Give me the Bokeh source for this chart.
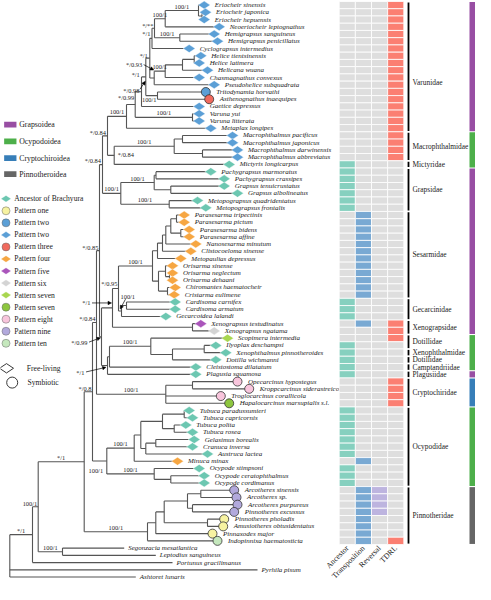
import math
from bokeh.plotting import figure
from bokeh.models import ColumnDataSource, Range1d, Arrow, NormalHead
from bokeh.core.properties import value
from bokeh.embed import file_html
from bokeh.resources import INLINE

# ---------------- data ----------------
taxa = [
    "Eriocheir sinensis", "Eriocheir japonica", "Eriocheir hepuensis", "Neoeriocheir leptognathus",
    "Hemigrapsus sanguineus", "Hemigrapsus penicillatus", "Cyclograpsus intermedius",
    "Helice tientsinensis", "Helice latimera", "Helicana wuana", "Chasmagnathus convexus",
    "Pseudohelice subquadrata", "Tritodynamia horvathi", "Asthenognathus inaequipes",
    "Gaetice depressus", "Varuna yui", "Varuna litterata", "Metaplax longipes",
    "Macrophthalmus pacificus", "Macrophthalmus japonicus", "Macrophthalmus darwinensis",
    "Macrophthalmus abbreviatus", "Mictyris longicarpus",
    "Pachygrapsus marmoratus", "Pachygrapsus crassipes", "Grapsus tenuicrustatus",
    "Grapsus albolineatus", "Metopograpsus quadridentatus", "Metopograpsus frontalis",
    "Parasesarma tripectinis", "Parasesarma pictum", "Parasesarma bidens", "Parasesarma affine",
    "Nanosesarma minutum", "Clistocoeloma sinense", "Metopaulias depressus", "Orisarma sinense",
    "Orisarma neglectum", "Orisarma dehaani", "Chiromantes haematocheir", "Cristarma eulimene",
    "Cardisoma carnifex", "Cardisoma armatum", "Gecarcoidea lalandi",
    "Xenograpsus testudinatus", "Xenograpsus ngatama",
    "Scopimera intermedia", "Ilyoplax deschampsi", "Xenophthalmus pinnotheroides",
    "Dotilla wichmanni", "Cleistostoma dilatatum", "Plagusia squamosa",
    "Opecarcinus hypostegus", "Kroppcarcinus siderastreicola", "Troglocarcinus corallicola",
    "Hapalocarcinus marsupialis s.l.",
    "Tubuca paradussumieri", "Tubuca capricornis", "Tubuca polita", "Tubuca rosea",
    "Gelasimus borealis", "Cranuca inversa", "Austruca lactea", "Minuca minax",
    "Ocypode stimpsoni", "Ocypode ceratophthalmus", "Ocypode cordimanus",
    "Arcotheres sinensis", "Arcotheres sp.", "Arcotheres purpureus", "Pinnotheres excussus",
    "Pinnotheres pholadis", "Amusiotheres obtusidentatus", "Pinnaxodes major",
    "Indopinnixa haematosticta",
    "Segonzacia mesatlantica", "Leptodius sanguineus", "Portunus gracilimanus",
    "Pyrhila pisum", "Ashtoret lunaris",
]

# tip depth (end of each terminal branch)
tip_x = [
    211.7, 213, 211.7, 226.7, 221.7, 225, 196.7, 208.3, 206.7, 215, 206.7, 221.7, 213.3, 216.7,
    206.7, 206.7, 206.7, 218.3,
    240, 240, 245, 245, 236.7,
    218.3, 231.7, 231.7, 245, 205, 213.3,
    191.7, 191.7, 196.7, 196.7, 203.3, 198.3, 188.3, 180, 180, 180, 182.7, 181.7,
    182.7, 182.7, 173.3,
    208.3, 221.7,
    235, 223.3, 233.3, 223.3, 203.3, 203.3,
    245, 256.7, 228.3, 236.7,
    196.7, 200, 193.3, 200, 201.7, 200, 215, 185, 206.7, 211.7, 211.7,
    241.7, 244, 245, 241.7, 231.7, 230.7, 220, 225,
    131.7, 163.3, 180, 265, 143.3,
]

# D = diamond (free-living), C = circle (symbiotic), "" = none
tip_shape = (["D"] * 12 + ["C", "C"] + ["D"] * 4 + ["D"] * 5 + ["D"] * 6 + ["D"] * 12 + ["D"] * 3
             + ["D"] * 2 + ["D"] * 6 + ["C"] * 4 + ["D"] * 11 + ["C"] * 8 + [""] * 5)
tip_pattern = (
    ["p2"] * 12 + ["p2", "p3"] + ["p2"] * 4 +          # Varunidae
    ["p2"] * 4 + ["anc"] +                             # Macrophthalmidae, Mictyridae
    ["anc"] * 6 +                                      # Grapsidae
    ["p4"] * 12 +                                      # Sesarmidae
    ["anc"] * 3 +                                      # Gecarcinidae
    ["p5", "p6"] +                                     # Xenograpsidae
    ["p7"] + ["anc"] * 5 +                             # Dotillidae ... Plagusiidae
    ["p8", "p8", "p8", "p7c"] +                        # Cryptochiridae
    ["anc"] * 7 + ["p4"] + ["anc"] * 3 +               # Ocypodidae
    ["p9"] * 4 + ["p1"] * 3 + ["p10"] +                # Pinnotheridae
    [None] * 5)

heat_cols = ["Ancestor", "Transposition", "Reversal", "TDRL"]
ancestor = [
    0, 0, 0, 0, 0, 0, 0, 0, 0, 0, 0, 0, 0, 0, 0, 0, 0, 0,
    0, 0, 0, 0,
    1,
    1, 1, 1, 1, 1, 1,
    0, 0, 0, 0, 0, 0, 0, 0, 0, 0, 0, 0,
    1, 1, 1,
    0, 0,
    0, 1, 1, 1, 1, 1,
    0, 0, 0, 0,
    1, 1, 1, 1, 1, 1, 1, 0, 1, 1, 1,
    0, 0, 0, 0, 0, 0, 0, 0]
transposition = [
    0, 0, 0, 0, 0, 0, 0, 0, 0, 0, 0, 0, 0, 0, 0, 0, 0, 0,
    0, 0, 0, 0,
    0,
    0, 0, 0, 0, 0, 0,
    1, 1, 1, 1, 1, 1, 1, 1, 1, 1, 1, 1,
    0, 0, 0,
    1, 0,
    0, 0, 0, 0, 0, 0,
    0, 0, 0, 0,
    0, 0, 0, 0, 0, 0, 0, 1, 0, 0, 0,
    1, 1, 1, 1, 1, 1, 1, 1]
reversal = [
    0, 0, 0, 0, 0, 0, 0, 0, 0, 0, 0, 0, 0, 0, 0, 0, 0, 0,
    0, 0, 0, 0,
    0,
    0, 0, 0, 0, 0, 0,
    0, 0, 0, 0, 0, 0, 0, 0, 0, 0, 0, 0,
    0, 0, 0,
    0, 0,
    0, 0, 0, 0, 0, 0,
    0, 0, 0, 0,
    0, 0, 0, 0, 0, 0, 0, 0, 0, 0, 0,
    1, 1, 1, 1, 0, 0, 0, 0]
tdrl = [
    1, 1, 1, 1, 1, 1, 1, 1, 1, 1, 1, 1, 1, 1, 1, 1, 1, 1,
    1, 1, 1, 1,
    0,
    0, 0, 0, 0, 0, 0,
    0, 0, 0, 0, 0, 0, 0, 0, 0, 0, 0, 0,
    0, 0, 0,
    1, 1,
    1, 0, 0, 0, 0, 0,
    1, 1, 1, 1,
    0, 0, 0, 0, 0, 0, 0, 0, 0, 0, 0,
    0, 0, 0, 0, 0, 0, 0, 1]

family_names = ["Varunidae", "Macrophthalmidae", "Mictyridae", "Grapsidae", "Sesarmidae",
                "Gecarcinidae", "Xenograpsidae", "Dotillidae", "Xenophthalmidae", "Dotillidae",
                "Camptandriidae", "Plagusiidae", "Cryptochiridae", "Ocypodidae", "Pinnotheridae"]
family_first = [0, 18, 22, 23, 29, 41, 44, 46, 48, 49, 50, 51, 52, 56, 67]
family_last = [17, 21, 22, 28, 40, 43, 45, 47, 48, 49, 50, 51, 55, 66, 74]

superfamily_names = ["Grapsoidea", "Ocypodoidea", "Cryptochiroidea", "Pinnotheroidea"]
superfamily_seg = ["Grapsoidea", "Ocypodoidea", "Grapsoidea", "Ocypodoidea", "Grapsoidea",
                   "Cryptochiroidea", "Ocypodoidea", "Pinnotheroidea"]
superfamily_first = [0, 18, 23, 46, 51, 52, 56, 67]
superfamily_last = [17, 22, 45, 50, 51, 55, 66, 74]

legend_labels = ["Ancestor of Brachyura", "Pattern one", "Pattern two", "Pattern two",
                 "Pattern three", "Pattern four", "Pattern five", "Pattern six",
                 "Pattern seven", "Pattern seven", "Pattern eight", "Pattern nine", "Pattern ten"]
legend_shapes = ["D", "C", "C", "D", "C", "D", "D", "D", "D", "C", "C", "C", "C"]
legend_keys = ["anc", "p1", "p2", "p2", "p3", "p4", "p5", "p6", "p7", "p7c", "p8", "p9", "p10"]

# ---------------- styles ----------------
pattern_color = {
    "anc": "#6cc7b1", "p1": "#f7f3a1", "p2": "#5b9fd6", "p3": "#f06a5e", "p4": "#f6a642",
    "p5": "#aa55bb", "p6": "#d4d4d4", "p7": "#a8d64f", "p7c": "#8dc63f", "p8": "#f8c5dc",
    "p9": "#b2a9dc", "p10": "#c5e8bd",
}
super_color = {"Grapsoidea": "#984ea3", "Ocypodoidea": "#4daf4a",
               "Cryptochiroidea": "#377eb8", "Pinnotheroidea": "#666666"}
heat_on = ["#86d0bf", "#79a9d3", "#bdb4df", "#fb7f72"]
heat_off = "#dedede"
SERIF = value("Liberation Serif")
TREE_COL = "#555555"
TXT = "#222222"

ROW_PX = 7.333
Y0 = 7.5


def py(px):
    return (px - Y0) / ROW_PX - 0.5


# ---------------- tree ----------------
def N(x, *kids, s=None, at=None, arrow=None):
    return dict(x=x, kids=kids, s=s, at=at, arrow=arrow)


V1 = N(209.5, "Eriocheir japonica", "Eriocheir hepuensis")
V2 = N(206, "Eriocheir sinensis", V1, s="100/1")
V3 = N(172.7, V2, "Neoeriocheir leptognathus", s="100/1")
V4 = N(187.3, "Hemigrapsus sanguineus", "Hemigrapsus penicillatus", s="100/1")
V5 = N(162, V3, V4, s="*/**", at=(-1, -2.5, "right"))
V6 = N(159.5, V5, "Cyclograpsus intermedius", s="*/1", at=(-1.5, -4.8, "right"))
V7 = N(201.7, "Helice tientsinensis", "Helice latimera")
V8 = N(190, V7, "Helicana wuana")
V9 = N(172.7, V8, "Chasmagnathus convexus", s="100/1")
V10 = N(161.7, V9, "Pseudohelice subquadrata", s="*/0.93", at=(-12, -14, "right"),
        arrow=(-10.5, -13.5, -0.5, -8))
V11 = N(157.3, V6, V10, s="*/1", at=(-2, -3, "right"))
V12 = N(165, "Tritodynamia horvathi", "Asthenognathus inaequipes", s="100/1", at=(-1, 4, "right"))
V13 = N(153.3, V11, V12, s="*/1", at=(-6, -2, "right"))
V14 = N(149, V13, "Gaetice depressus", s="*/0.98", at=(-2, -1, "right"),
        arrow=(-1.5, -2.5, 3.8, -10.5))
Vv = N(200, "Varuna yui", "Varuna litterata", s="100/1")
V15 = N(142.7, V14, Vv, s="*/0.99", at=(-1, -7, "right"))
V16 = N(134, V15, "Metaplax longipes", s="100/1")
Ma = N(190, "Macrophthalmus pacificus", "Macrophthalmus japonicus")
Mb = N(210, "Macrophthalmus darwinensis", "Macrophthalmus abbreviatus")
M = N(181.7, Ma, Mb, s="100/1")
M2 = N(121.7, M, "Mictyris longicarpus", s="*/0.84", at=(3.5, -0.5, "left"))
VM = N(115, V16, M2, s="*/0.84", at=(-1.5, -3.5, "right"))
Gp1 = N(163.5, "Pachygrapsus marmoratus", "Pachygrapsus crassipes")
Ggr = N(178.3, "Grapsus tenuicrustatus", "Grapsus albolineatus")
Gpg = N(161.7, Gp1, Ggr, s="100/1")
Gmet = N(176.7, "Metopograpsus quadridentatus", "Metopograpsus frontalis", s="100/1")
G = N(128.3, Gpg, Gmet, s="100/1")
VMG = N(110, VM, G, s="*/0.84", at=(-1.5, -4.5, "right"))
S1 = N(184, "Parasesarma tripectinis", "Parasesarma pictum")
S2 = N(188.3, "Parasesarma bidens", "Parasesarma affine")
S3 = N(178.3, S1, S2)
S4 = N(173.3, S3, "Nanosesarma minutum")
S5 = N(170, S4, "Clistocoeloma sinense")
S6 = N(165, S5, "Metopaulias depressus")
S7a = N(177, "Orisarma neglectum", "Orisarma dehaani")
S7 = N(173, "Orisarma sinense", S7a)
S8 = N(175, "Chiromantes haematocheir", "Cristarma eulimene")
S9 = N(166, S7, S8)
Ses = N(160, S6, S9, s="100/1")
C1 = N(134, "Cardisoma carnifex", "Cardisoma armatum")
Gec = N(129, C1, "Gecarcoidea lalandi", s="100/1", at=(-1, -15, "left"), arrow=(4, -12, -1.3, -2))
SG = N(126, Ses, Gec, s="*/0.95", at=(-1, -5, "right"))
Xeno = N(200, "Xenograpsus testudinatus", "Xenograpsus ngatama")
SGX = N(120, SG, Xeno, s="*/1", at=(-22, -5, "right"), arrow=(-20.5, -5, -1, -5))
Da = N(211.7, "Ilyoplax deschampsi", "Xenophthalmus pinnotheroides")
Dc = N(180, Da, "Dotilla wichmanni")
Db = N(158.3, "Scopimera intermedia", Dc, s="100/1")
O1 = N(117, Db, "Cleistostoma dilatatum")
O2 = N(115, O1, "Plagusia squamosa", s="*/1", at=(-23, 6.8, "right"), arrow=(-21.5, 6.5, -1.5, 1.8))
B4 = N(109, SGX, O2, s="*/0.99", at=(-14, 6, "right"), arrow=(-12.5, 5.5, -1, 1))
Ba = N(107, VMG, B4, s="*/0.85", at=(-1, -3.5, "right"))
Cr1 = N(200, "Opecarcinus hypostegus", "Kroppcarcinus siderastreicola")
Crypto = N(173.3, Cr1, "Troglocarcinus corallicola", "Hapalocarcinus marsupialis s.l.", s="100/1")
Bb = N(104, Ba, Crypto, s="*/0.84", at=(-1, -3.5, "right"))
Tua = N(191.7, "Tubuca paradussumieri", "Tubuca capricornis")
Tub = N(181.7, "Tubuca polita", "Tubuca rosea")
Tuc = N(170, Tua, Tub)
Gea = N(163.3, "Gelasimus borealis", "Cranuca inversa")
Geb = N(153.3, Gea, "Austruca lactea")
U1 = N(148.3, Tuc, Geb)
U2 = N(141.7, U1, "Minuca minax", s="100/1")
Oca = N(178.3, "Ocypode ceratophthalmus", "Ocypode cordimanus")
Oc = N(161.7, "Ocypode stimpsoni", Oca, s="100/1")
Ocyp = N(114.3, U2, Oc, s="100/1", at=(-11, 10, "center"))
Bc = N(100, Bb, Ocyp, s="*/0.8", at=(-1, -3.5, "right"))
Pa = N(208.3, "Arcotheres sinensis", "Arcotheres sp.")
Pb = N(200, "Arcotheres purpureus", "Pinnotheres excussus")
Pc = N(195, Pa, Pb)
Pd = N(215, "Pinnotheres pholadis", "Amusiotheres obtusidentatus")
Pe = N(171.7, Pc, Pd)
Pf = N(163.3, Pe, "Pinnaxodes major")
Pg = N(155, Pf, "Indopinnixa haematosticta", s="100/1")
Bd = N(91.7, Bc, Pg, s="*/1")
Sg = N(70, "Segonzacia mesatlantica", "Leptodius sanguineus", s="100/1")
Out1 = N(45.7, Bd, Sg, s="100/1", at=(-1, -3.5, "right"))
Out2 = N(40, Out1, "Portunus gracilimanus", s="*/1")
Root = N(17.3, Out2, "Pyrhila pisum", "Ashtoret lunaris")

segs = dict(x0=[], y0=[], x1=[], y1=[])
sup = dict(x=[], y=[], text=[], align=[], base=[])
arr = dict(x0=[], y0=[], x1=[], y1=[])


def walk(node, parent_x):
    if isinstance(node, str):
        i = taxa.index(node)
        return i, tip_x[i]
    x = node["x"]
    kp = [walk(k, x) for k in node["kids"]]
    ys = [k[0] for k in kp]
    y = (min(ys) + max(ys)) / 2
    segs["x0"].append(x); segs["y0"].append(min(ys)); segs["x1"].append(x); segs["y1"].append(max(ys))
    for ky, kx in kp:
        segs["x0"].append(x); segs["y0"].append(ky); segs["x1"].append(kx); segs["y1"].append(ky)
    if node["s"]:
        if node["at"] is None:
            sup["x"].append((parent_x + x) / 2); sup["y"].append(y - 1.0 / ROW_PX)
            sup["align"].append("center"); sup["base"].append("bottom")
        else:
            dx, dy, al = node["at"]
            sup["x"].append(x + dx); sup["y"].append(y + dy / ROW_PX)
            sup["align"].append(al); sup["base"].append("middle")
        sup["text"].append(node["s"])
    if node["arrow"]:
        sx, sy, tx, ty = node["arrow"]
        arr["x0"].append(x + sx); arr["y0"].append(y + sy / ROW_PX)
        arr["x1"].append(x + tx); arr["y1"].append(y + ty / ROW_PX)
    return y, x


walk(Root, None)

# ---------------- figure ----------------
p = figure(width=475, height=584, x_range=Range1d(8, 483), y_range=Range1d(py(598), py(6.5)),
           output_backend="svg", toolbar_location=None, min_border=0,
           x_axis_type=None, y_axis_type=None)
p.grid.visible = False
p.outline_line_color = None
p.background_fill_color = "white"
p.border_fill_color = "white"

p.segment(x0="x0", y0="y0", x1="x1", y1="y1", source=ColumnDataSource(segs),
          line_color=TREE_COL, line_width=1.1)

# tips
dia = dict(x=[], y=[], c=[])
cir = dict(x=[], y=[], c=[])
lab = dict(x=[], y=[], t=[])
for i in range(len(taxa)):
    sh = tip_shape[i]
    if sh == "D":
        dia["x"].append(tip_x[i]); dia["y"].append(i); dia["c"].append(pattern_color[tip_pattern[i]])
    elif sh == "C":
        cir["x"].append(tip_x[i]); cir["y"].append(i); cir["c"].append(pattern_color[tip_pattern[i]])
    lab["x"].append(tip_x[i] + (10.5 if sh else 4)); lab["y"].append(i); lab["t"].append(taxa[i])
p.scatter(x="x", y="y", fill_color="c", source=ColumnDataSource(dia), marker="diamond",
          size=12, angle=math.pi / 2, line_color="white", line_width=0.4)
p.scatter(x="x", y="y", fill_color="c", source=ColumnDataSource(cir), marker="circle",
          size=9, line_color="#333333", line_width=0.8)
p.text(x="x", y="y", text="t", source=ColumnDataSource(lab), text_font=SERIF,
       text_font_style="italic", text_font_size="7px", text_baseline="middle",
       text_color=TXT)

# support values
p.text(x="x", y="y", text="text", text_align="align", text_baseline="base",
       source=ColumnDataSource(sup), text_font=SERIF, text_font_size="6.4px", text_color=TXT)
p.add_layout(Arrow(end=NormalHead(size=3.5, fill_color="black", line_color="black", line_width=0.5),
                   source=ColumnDataSource(arr), x_start="x0", y_start="y0", x_end="x1", y_end="y1",
                   line_width=0.7, line_color="black"))

# heatmap
HX0, CW = 346.7, 16.15
hm = dict(x=[], y=[], c=[])
for j, col in enumerate([ancestor, transposition, reversal, tdrl]):
    for i, v in enumerate(col):
        hm["x"].append(HX0 + (j + 0.5) * CW); hm["y"].append(i)
        hm["c"].append(heat_on[j] if v else heat_off)
p.rect(x="x", y="y", width=CW, height=1, fill_color="c", line_color="white", line_width=0.8,
       source=ColumnDataSource(hm))
p.text(x=[HX0 + (j + 0.5) * CW for j in range(4)], y=[py(560)] * 4, text=heat_cols,
       angle=math.pi / 4, text_align="right", text_baseline="middle", text_font=SERIF,
       text_font_size="7.8px", text_color=TXT)

# family brackets and labels
gap = 0.9 / ROW_PX
p.segment(x0=[416] * len(family_names), x1=[416] * len(family_names),
          y0=[f - 0.5 + gap for f in family_first], y1=[l + 0.5 - gap for l in family_last],
          line_color="black", line_width=1.8)
fam_y = [(f + l) / 2 for f, l in zip(family_first, family_last)]
fam_y[0] += 2.2
p.text(x=[420] * len(family_names), y=fam_y, text=family_names, text_baseline="middle",
       text_font=SERIF, text_font_size="7.4px", text_color=TXT)

# superfamily bars
p.rect(x=[480] * len(superfamily_seg),
       y=[(f + l) / 2 for f, l in zip(superfamily_first, superfamily_last)],
       width=6, height=[(l - f + 1) - 0.15 for f, l in zip(superfamily_first, superfamily_last)],
       fill_color=[super_color[s] for s in superfamily_seg], line_color=None)

# legend: superfamilies
sy = [py(v) for v in (132.2, 149.2, 166.2, 182.3)]
p.rect(x=[17.8] * 4, y=sy, width=12.3, height=5.8 / ROW_PX,
       fill_color=[super_color[s] for s in superfamily_names], line_color=None)
p.text(x=[26.7] * 4, y=sy, text=superfamily_names, text_baseline="middle", text_font=SERIF,
       text_font_size="7.8px", text_color=TXT)

# legend: patterns
ly = [py(207.3 + 12.2 * k) for k in range(len(legend_labels))]
ld = dict(x=[], y=[], c=[])
lc = dict(x=[], y=[], c=[])
for k, (sh, key) in enumerate(zip(legend_shapes, legend_keys)):
    d = ld if sh == "D" else lc
    d["x"].append(13.5); d["y"].append(ly[k]); d["c"].append(pattern_color[key])
p.scatter(x="x", y="y", fill_color="c", source=ColumnDataSource(ld), marker="diamond", size=10,
          angle=math.pi / 2, line_color="white", line_width=0.3)
p.scatter(x="x", y="y", fill_color="c", source=ColumnDataSource(lc), marker="circle", size=8,
          line_color="#666666", line_width=0.5)
p.text(x=[21.7] * len(legend_labels), y=ly, text=legend_labels, text_baseline="middle",
       text_font=SERIF, text_font_size="7.6px", text_color=TXT)

# legend: life style
p.scatter(x=[14], y=[py(379)], marker="diamond", size=14, angle=math.pi / 2,
          fill_color="white", line_color=TXT, line_width=0.9)
p.scatter(x=[19.7], y=[py(393.5)], marker="circle", size=11,
          fill_color="white", line_color=TXT, line_width=0.9)
p.text(x=[34.3, 35], y=[py(379), py(393.5)], text=["Free-living", "Symbiotic"],
       text_baseline="middle", text_font=SERIF, text_font_size="7.6px", text_color=TXT)

open("out.html", "w").write(file_html(p, INLINE))
